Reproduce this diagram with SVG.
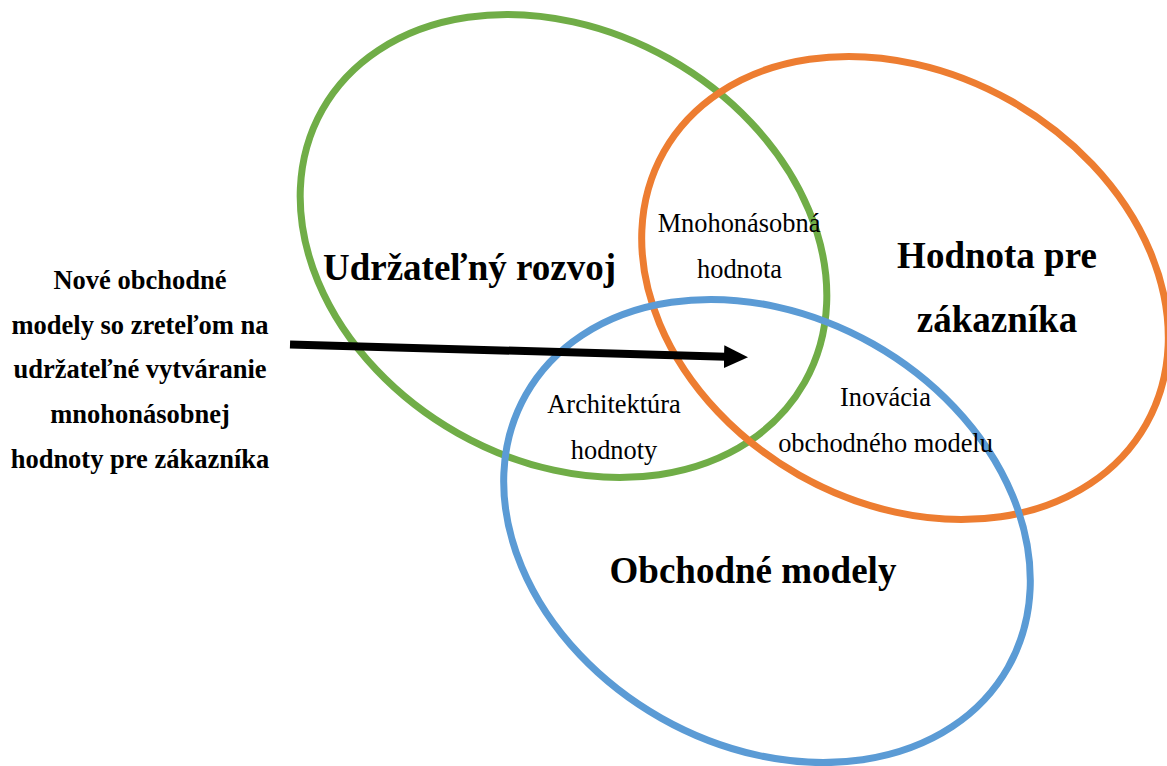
<svg xmlns="http://www.w3.org/2000/svg" width="1167" height="766" viewBox="0 0 1167 766">
  <style>
    .ring { fill: none; stroke-width: 7; }
    .big { font-family: "Liberation Serif", "Times New Roman", serif; font-weight: bold; font-size: 37px; fill: #000; text-anchor: middle; }
    .lbl { font-family: "Liberation Serif", "Times New Roman", serif; font-size: 26.4px; fill: #000; text-anchor: middle; }
    .side { font-family: "Liberation Serif", "Times New Roman", serif; font-weight: bold; font-size: 26.5px; fill: #000; text-anchor: middle; }
  </style>
  <defs>
    <marker id="head" markerUnits="userSpaceOnUse" markerWidth="24" markerHeight="23" refX="2" refY="11.5" orient="auto">
      <path d="M0,0 L24,11.5 L0,23 Z" fill="#000"/>
    </marker>
  </defs>
  <rect width="1167" height="766" fill="#fff"/>

  <g id="udrzatelny-rozvoj">
    <ellipse class="ring" cx="563.5" cy="246" rx="277" ry="215" transform="rotate(29.5 563.5 246)" stroke="#70AD47"/>
    <text class="big" x="469.5" y="280">Udržateľný rozvoj</text>
  </g>
  <g id="hodnota-pre-zakaznika">
    <ellipse class="ring" cx="905" cy="288" rx="277" ry="215" transform="rotate(29.5 905 288)" stroke="#ED7D31"/>
    <text class="big" x="997" y="268">Hodnota pre</text>
    <text class="big" x="997" y="332">zákazníka</text>
  </g>
  <g id="obchodne-modely">
    <ellipse class="ring" cx="767" cy="531" rx="277" ry="215" transform="rotate(29.5 767 531)" stroke="#5B9BD5"/>
    <text class="big" x="753" y="583">Obchodné modely</text>
  </g>

  <g id="mnohonasobna-hodnota">
    <text class="lbl" x="739" y="232">Mnohonásobná</text>
    <text class="lbl" x="739.5" y="278">hodnota</text>
  </g>
  <g id="architektura-hodnoty">
    <text class="lbl" x="614" y="413">Architektúra</text>
    <text class="lbl" x="614" y="458.5">hodnoty</text>
  </g>
  <g id="inovacia-obchodneho-modelu">
    <text class="lbl" x="885.5" y="406">Inovácia</text>
    <text class="lbl" x="885.5" y="452">obchodného modelu</text>
  </g>

  <g id="nove-obchodne-modely">
    <text class="side" x="140" y="289">Nové obchodné</text>
    <text class="side" x="140" y="333.5">modely so zreteľom na</text>
    <text class="side" x="140" y="378">udržateľné vytváranie</text>
    <text class="side" x="140" y="423">mnohonásobnej</text>
    <text class="side" x="140" y="468">hodnoty pre zákazníka</text>
  </g>

  <g id="connectors">
    <line x1="290" y1="344.5" x2="726" y2="356.7" stroke="#000" stroke-width="8" marker-end="url(#head)"/>
  </g>
</svg>
